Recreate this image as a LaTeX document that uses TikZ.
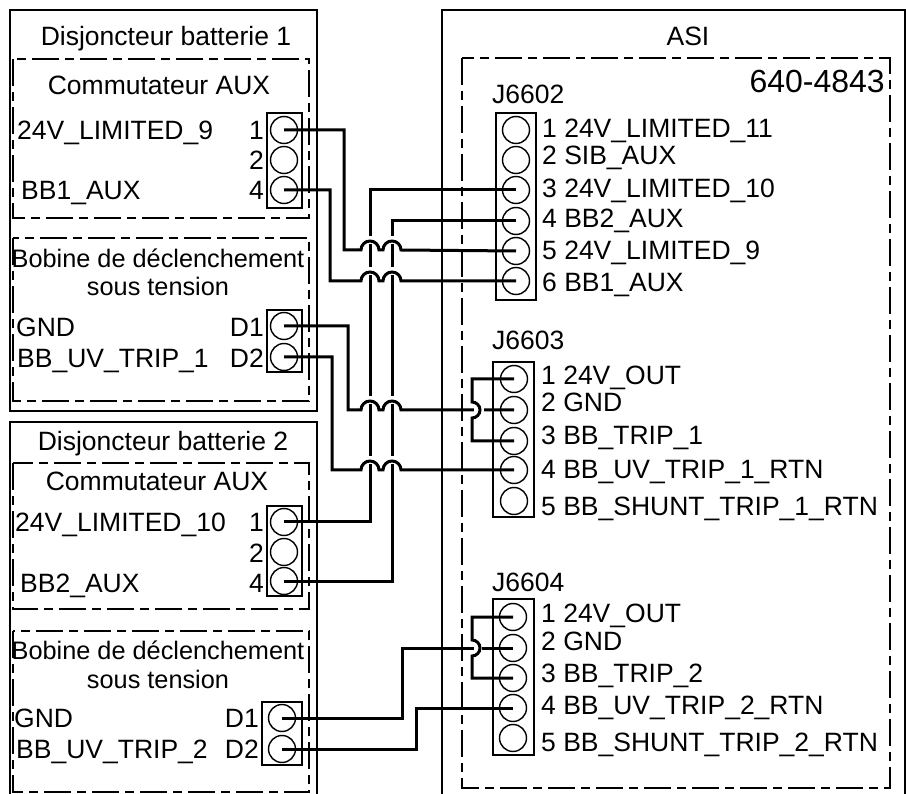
\documentclass[tikz,border=0pt]{standalone}
\usepackage{fontspec}
\setmainfont{Liberation Sans}
\newcommand{\hopx}[2]{-- (#1-9,#2) arc[start angle=180,end angle=0,radius=9pt] -- (#1+9,#2)}
\tikzset{
	lab/.style={inner sep=0pt, font=\fontsize{26.5}{28}\selectfont},
	labl/.style={lab, anchor=base west},
	labr/.style={lab, anchor=base east},
	labc/.style={lab, anchor=base},
	labcoil/.style={labc, font=\fontsize{25.3}{28}\selectfont},
	frame/.style={draw=black, line width=1.4pt},
	dashframe/.style={draw=black, line width=1.4pt, dash pattern=on 27pt off 6pt on 9pt off 6pt},
	header/.style={draw=black, line width=1.4pt, fill=none},
	contact/.style={circle, draw=black, line width=1.4pt, minimum size=27pt, inner sep=0pt},
	wire/.style={draw=black, line width=3pt, line join=miter},
	halo/.style={draw=white, line width=7pt}
}
\begin{document}
\begin{tikzpicture}[x=1pt, y=-1pt]
	\useasboundingbox (0,0) rectangle (906,794);
	% boxes
	\draw[frame] (10,10) rectangle (317,411);
	\draw[frame] (10,800) -- (10,422) -- (317,422) -- (317,800);
	\draw[frame] (442,800) -- (442,10) -- (905,10) -- (905,800);
	\draw[dashframe] (13,59) rectangle (309,218);
	\draw[dashframe] (13,238) rectangle (309,401);
	\draw[dashframe] (13,463) rectangle (309,609);
	\draw[dashframe] (13,631) rectangle (309,792);
	\draw[dashframe] (462,58) rectangle (890,788);
	% headers
	\draw[header] (267,113) rectangle (302,208);
	\draw[header] (267,310) rectangle (302,372);
	\draw[header] (267,506) rectangle (302,596);
	\draw[header] (262,702) rectangle (302,765);
	\draw[header] (496,113) rectangle (536,300);
	\draw[header] (493,362) rectangle (534,517);
	\draw[header] (493,599) rectangle (534,755);
	% left contacts
	\node[contact] (aa1) at (284,130) {};
	\node[contact] (aa2) at (284,160) {};
	\node[contact] (aa4) at (284,190) {};
	\node[contact] (ua1) at (284,326) {};
	\node[contact] (ua2) at (284,357) {};
	\node[contact] (ab1) at (284,522) {};
	\node[contact] (ab2) at (284,552) {};
	\node[contact] (ab4) at (284,581) {};
	\node[contact] (ub1) at (282,718) {};
	\node[contact] (ub2) at (282,749) {};
	% right contacts
	\node[contact] (ja1) at (516,130) {};
	\node[contact] (ja2) at (516,160) {};
	\node[contact] (ja3) at (516,190) {};
	\node[contact] (ja4) at (516,221) {};
	\node[contact] (ja5) at (516,251) {};
	\node[contact] (ja6) at (516,281) {};
	\node[contact] (jb1) at (514,379) {};
	\node[contact] (jb2) at (514,410) {};
	\node[contact] (jb3) at (514,441) {};
	\node[contact] (jb4) at (514,470) {};
	\node[contact] (jb5) at (514,501) {};
	\node[contact] (jc1) at (513,617) {};
	\node[contact] (jc2) at (513,648) {};
	\node[contact] (jc3) at (513,678) {};
	\node[contact] (jc4) at (513,708) {};
	\node[contact] (jc5) at (513,738) {};
	% long verticals
	\draw[wire] (ja3.center) -| (370,300) -- (370,522) -- (ab1.center);
	\draw[wire] (ja4.center) -| (392,300) -- (392,581) -- (ab4.center);
	% halos under the hops
	\draw[halo] (370,236) -- (370,244) (392,236) -- (392,244);
	\draw[halo] (370,267) -- (370,275) (392,267) -- (392,275);
	\draw[halo] (370,396) -- (370,404) (392,396) -- (392,404);
	\draw[halo] (370,456) -- (370,464) (392,456) -- (392,464);
	% wires with hops
	\draw[wire] (aa1.center) -| (344,250) \hopx{370}{250} \hopx{392}{250} -- (ja5.center);
	\draw[wire] (aa4.center) -| (330,281) \hopx{370}{281} \hopx{392}{281} -- (ja6.center);
	\draw[wire] (ua1.center) -| (348,410) \hopx{370}{410} \hopx{392}{410} -- (jb2.center);
	\draw[wire] (ua2.center) -| (332,470) \hopx{370}{470} \hopx{392}{470} -- (jb4.center);
	\draw[wire] (ub1.center) -| (402,648) -- (jc2.center);
	\draw[wire] (ub2.center) -| (416,708) -- (jc4.center);
	% bridges
	\draw[halo, line width=4pt] (474,410) -- (484,410);
	\draw[halo, line width=4pt] (474,648) -- (482,648);
	\draw[wire] (jb1.center) -| (472,402) arc[start angle=90,end angle=-90,radius=8pt] -- (472,441) -- (jb3.center);
	\draw[wire] (jc1.center) -| (472,640) arc[start angle=90,end angle=-90,radius=8pt] -- (472,678) -- (jc3.center);
	% left labels
	\node[labc] (t1) at (166,46) {Disjoncteur batterie 1};
	\node[labc] (t2) at (159,95) {Commutateur AUX};
	\node[labl] (t3) at (17,140) {24V\_LIMITED\_9};
	\node[labr] (t4) at (264,140) {1};
	\node[labr] (t5) at (264,170) {2};
	\node[labr] (t6) at (264,200) {4};
	\node[labl] (t7) at (21,200) {BB1\_AUX};
	\node[labcoil] (t8) at (158,268) {Bobine de déclenchement};
	\node[labcoil] (t9) at (158,296) {sous tension};
	\node[labl] (t10) at (16,337) {GND};
	\node[labr] (t11) at (264,337) {D1};
	\node[labl] (t12) at (17,368) {BB\_UV\_TRIP\_1};
	\node[labr] (t13) at (264,368) {D2};
	\node[labc] (t14) at (163,451) {Disjoncteur batterie 2};
	\node[labc] (t15) at (157,490) {Commutateur AUX};
	\node[labl] (t16) at (15,532) {24V\_LIMITED\_10};
	\node[labr] (t17) at (264,532) {1};
	\node[labr] (t18) at (264,562) {2};
	\node[labr] (t19) at (264,592) {4};
	\node[labl] (t20) at (20,592) {BB2\_AUX};
	\node[labcoil] (t21) at (158,659) {Bobine de déclenchement};
	\node[labcoil] (t22) at (158,688) {sous tension};
	\node[labl] (t23) at (14,727) {GND};
	\node[labr] (t24) at (259,727) {D1};
	\node[labl] (t25) at (16,758) {BB\_UV\_TRIP\_2};
	\node[labr] (t26) at (259,758) {D2};
	% right labels
	\node[labc] (t27) at (688,46) {ASI};
	\node[labr, font=\fontsize{32}{34}\selectfont] (t28) at (885,93) {640-4843};
	\node[labl] (t29) at (492,104) {J6602};
	\node[labl] (t30) at (542,138) {1 24V\_LIMITED\_11};
	\node[labl] (t31) at (542,165) {2 SIB\_AUX};
	\node[labl] (t32) at (542,198) {3 24V\_LIMITED\_10};
	\node[labl] (t33) at (542,228) {4 BB2\_AUX};
	\node[labl] (t34) at (542,260) {5 24V\_LIMITED\_9};
	\node[labl] (t35) at (542,292) {6 BB1\_AUX};
	\node[labl] (t36) at (492,350) {J6603};
	\node[labl] (t37) at (541,385) {1 24V\_OUT};
	\node[labl] (t38) at (541,412) {2 GND};
	\node[labl] (t39) at (541,445) {3 BB\_TRIP\_1};
	\node[labl] (t40) at (541,479) {4 BB\_UV\_TRIP\_1\_RTN};
	\node[labl] (t41) at (541,515) {5 BB\_SHUNT\_TRIP\_1\_RTN};
	\node[labl] (t42) at (492,591) {J6604};
	\node[labl] (t43) at (541,622) {1 24V\_OUT};
	\node[labl] (t44) at (541,650) {2 GND};
	\node[labl] (t45) at (541,682) {3 BB\_TRIP\_2};
	\node[labl] (t46) at (541,714) {4 BB\_UV\_TRIP\_2\_RTN};
	\node[labl] (t47) at (541,751) {5 BB\_SHUNT\_TRIP\_2\_RTN};
\end{tikzpicture}
\end{document}
